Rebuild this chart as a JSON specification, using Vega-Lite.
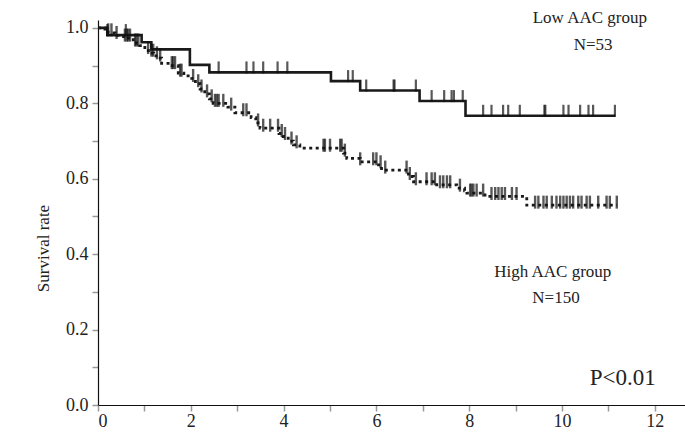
{
  "$schema": "https://vega.github.io/schema/vega-lite/v6.json",
  "autosize": "none",
  "width": 587,
  "height": 385,
  "padding": {"left": 98, "top": 20, "right": 0, "bottom": 34},
  "background": "white",
  "config": {
    "view": {"stroke": null},
    "font": "Liberation Serif",
    "axis": {"grid": false}
  },
  "datasets": {
    "low": [
      {"t": 0, "v": 1.0}, {"t": 0.2, "v": 0.981}, {"t": 0.94, "v": 0.962}, {"t": 1.15, "v": 0.943},
      {"t": 1.98, "v": 0.902}, {"t": 2.4, "v": 0.882}, {"t": 5.02, "v": 0.859}, {"t": 5.65, "v": 0.834},
      {"t": 6.93, "v": 0.806}, {"t": 7.92, "v": 0.767}, {"t": 11.15, "v": 0.767}
    ],
    "high": [
      {"t": 0, "v": 1.0}, {"t": 0.15, "v": 0.993}, {"t": 0.22, "v": 0.987}, {"t": 0.37, "v": 0.98},
      {"t": 0.55, "v": 0.973}, {"t": 0.76, "v": 0.96}, {"t": 0.9, "v": 0.953}, {"t": 1.01, "v": 0.94},
      {"t": 1.12, "v": 0.933}, {"t": 1.2, "v": 0.926}, {"t": 1.3, "v": 0.92}, {"t": 1.37, "v": 0.906},
      {"t": 1.55, "v": 0.9}, {"t": 1.73, "v": 0.88}, {"t": 1.85, "v": 0.873}, {"t": 2.02, "v": 0.866},
      {"t": 2.1, "v": 0.852}, {"t": 2.2, "v": 0.838}, {"t": 2.3, "v": 0.825}, {"t": 2.4, "v": 0.812},
      {"t": 2.48, "v": 0.8}, {"t": 2.8, "v": 0.79}, {"t": 2.95, "v": 0.775}, {"t": 3.3, "v": 0.762},
      {"t": 3.4, "v": 0.748}, {"t": 3.49, "v": 0.734}, {"t": 3.9, "v": 0.72}, {"t": 3.99, "v": 0.712},
      {"t": 4.1, "v": 0.7}, {"t": 4.21, "v": 0.69}, {"t": 4.35, "v": 0.681}, {"t": 5.29, "v": 0.668},
      {"t": 5.36, "v": 0.654}, {"t": 5.65, "v": 0.645}, {"t": 6.01, "v": 0.637}, {"t": 6.11, "v": 0.623},
      {"t": 6.69, "v": 0.606}, {"t": 6.8, "v": 0.592}, {"t": 7.3, "v": 0.584}, {"t": 7.73, "v": 0.575},
      {"t": 7.9, "v": 0.568}, {"t": 7.95, "v": 0.562}, {"t": 8.34, "v": 0.553}, {"t": 9.24, "v": 0.53},
      {"t": 11.18, "v": 0.53}
    ],
    "censorLow": [
      {"t": 0.2, "v": 0.981}, {"t": 0.6, "v": 0.981},
      {"t": 2.6, "v": 0.882}, {"t": 3.2, "v": 0.882}, {"t": 3.35, "v": 0.882}, {"t": 3.56, "v": 0.882},
      {"t": 3.87, "v": 0.882}, {"t": 4.08, "v": 0.882},
      {"t": 5.39, "v": 0.859}, {"t": 5.49, "v": 0.859},
      {"t": 5.78, "v": 0.834}, {"t": 6.37, "v": 0.834}, {"t": 6.39, "v": 0.834}, {"t": 6.85, "v": 0.834},
      {"t": 7.19, "v": 0.806}, {"t": 7.46, "v": 0.806}, {"t": 7.62, "v": 0.806}, {"t": 7.67, "v": 0.806}, {"t": 7.86, "v": 0.806},
      {"t": 8.3, "v": 0.767}, {"t": 8.48, "v": 0.767}, {"t": 8.73, "v": 0.767}, {"t": 8.84, "v": 0.767},
      {"t": 9.09, "v": 0.767}, {"t": 9.62, "v": 0.767}, {"t": 9.64, "v": 0.767}, {"t": 10.03, "v": 0.767},
      {"t": 10.14, "v": 0.767}, {"t": 10.39, "v": 0.767}, {"t": 10.57, "v": 0.767}, {"t": 10.67, "v": 0.767},
      {"t": 11.14, "v": 0.767}
    ],
    "censorHigh": [
      {"t": 0.22, "v": 0.987}, {"t": 0.29, "v": 0.987}, {"t": 0.4, "v": 0.98}, {"t": 0.58, "v": 0.973},
      {"t": 0.62, "v": 0.973}, {"t": 0.65, "v": 0.973}, {"t": 0.69, "v": 0.973}, {"t": 0.8, "v": 0.96},
      {"t": 0.83, "v": 0.96}, {"t": 0.87, "v": 0.96}, {"t": 1.08, "v": 0.94}, {"t": 1.15, "v": 0.933},
      {"t": 1.19, "v": 0.933}, {"t": 1.27, "v": 0.926}, {"t": 1.34, "v": 0.92}, {"t": 1.59, "v": 0.9},
      {"t": 1.62, "v": 0.9}, {"t": 1.66, "v": 0.9}, {"t": 1.77, "v": 0.88}, {"t": 1.8, "v": 0.88},
      {"t": 2.05, "v": 0.866}, {"t": 2.16, "v": 0.852}, {"t": 2.23, "v": 0.838}, {"t": 2.35, "v": 0.825},
      {"t": 2.45, "v": 0.812}, {"t": 2.52, "v": 0.8}, {"t": 2.56, "v": 0.8}, {"t": 2.6, "v": 0.8},
      {"t": 2.7, "v": 0.8}, {"t": 2.87, "v": 0.79}, {"t": 3.13, "v": 0.775}, {"t": 3.2, "v": 0.775},
      {"t": 3.45, "v": 0.748}, {"t": 3.56, "v": 0.734}, {"t": 3.71, "v": 0.734}, {"t": 3.88, "v": 0.734},
      {"t": 3.96, "v": 0.72}, {"t": 4.03, "v": 0.712}, {"t": 4.17, "v": 0.7}, {"t": 4.28, "v": 0.69},
      {"t": 4.86, "v": 0.681}, {"t": 4.89, "v": 0.681}, {"t": 5.0, "v": 0.681}, {"t": 5.22, "v": 0.681},
      {"t": 5.25, "v": 0.681}, {"t": 5.32, "v": 0.668}, {"t": 5.65, "v": 0.645}, {"t": 5.93, "v": 0.645},
      {"t": 6.0, "v": 0.645}, {"t": 6.09, "v": 0.637}, {"t": 6.19, "v": 0.623}, {"t": 6.65, "v": 0.623},
      {"t": 6.72, "v": 0.606}, {"t": 6.85, "v": 0.592}, {"t": 7.08, "v": 0.592}, {"t": 7.19, "v": 0.592},
      {"t": 7.26, "v": 0.592}, {"t": 7.37, "v": 0.584}, {"t": 7.44, "v": 0.584}, {"t": 7.52, "v": 0.584},
      {"t": 7.59, "v": 0.584}, {"t": 7.8, "v": 0.575}, {"t": 8.02, "v": 0.562}, {"t": 8.05, "v": 0.562},
      {"t": 8.09, "v": 0.562}, {"t": 8.16, "v": 0.562}, {"t": 8.3, "v": 0.562}, {"t": 8.48, "v": 0.553},
      {"t": 8.56, "v": 0.553}, {"t": 8.63, "v": 0.553}, {"t": 8.7, "v": 0.553}, {"t": 8.77, "v": 0.553},
      {"t": 8.92, "v": 0.553}, {"t": 9.02, "v": 0.553}, {"t": 9.42, "v": 0.53}, {"t": 9.49, "v": 0.53},
      {"t": 9.6, "v": 0.53}, {"t": 9.67, "v": 0.53}, {"t": 9.78, "v": 0.53}, {"t": 9.88, "v": 0.53},
      {"t": 9.96, "v": 0.53}, {"t": 10.03, "v": 0.53}, {"t": 10.1, "v": 0.53}, {"t": 10.17, "v": 0.53},
      {"t": 10.24, "v": 0.53}, {"t": 10.35, "v": 0.53}, {"t": 10.42, "v": 0.53}, {"t": 10.53, "v": 0.53},
      {"t": 10.6, "v": 0.53}, {"t": 10.78, "v": 0.53}, {"t": 10.96, "v": 0.53}, {"t": 11.03, "v": 0.53},
      {"t": 11.18, "v": 0.53}
    ],
    "labels": [
      {"t": 10.6, "v": 1.027, "text": "Low AAC group", "size": "s"},
      {"t": 10.67, "v": 0.955, "text": "N=53", "size": "s"},
      {"t": 9.8, "v": 0.353, "text": "High AAC group", "size": "s"},
      {"t": 9.87, "v": 0.284, "text": "N=150", "size": "s"},
      {"t": 11.31, "v": 0.072, "text": "P<0.01", "size": "l"}
    ]
  },
  "encoding": {
    "x": {
      "field": "t", "type": "quantitative",
      "scale": {"domain": [0, 12.65], "nice": false, "zero": false},
      "axis": {
        "title": null,
        "values": [0,1,2,3,4,5,6,7,8,9,10,11,12],
        "labelExpr": "datum.value % 2 == 1 ? '' : datum.value",
        "labelFont": "Liberation Serif", "labelFontSize": 18, "labelColor": "#222",
        "labelPadding": 1,
        "tickColor": "#999", "tickSize": 6, "tickWidth": 1.5,
        "domainColor": "#111", "domainWidth": 1.2
      }
    },
    "y": {
      "field": "v", "type": "quantitative",
      "scale": {"domain": [0, 1.021], "nice": false, "zero": false},
      "axis": {
        "title": "Survival rate",
        "titleFont": "Liberation Serif", "titleFontSize": 17, "titleFontWeight": "normal", "titleColor": "#222",
        "titlePadding": 13,
        "titleY": 228,
        "values": [0,0.1,0.2,0.3,0.4,0.5,0.6,0.7,0.8,0.9,1.0],
        "labelExpr": "round(datum.value*10) % 2 == 1 ? '' : format(datum.value, '.1f')",
        "labelFont": "Liberation Serif", "labelFontSize": 18, "labelColor": "#222",
        "labelPadding": 4,
        "tickColor": "#999", "tickSize": 6, "tickWidth": 1.5,
        "domainColor": "#111", "domainWidth": 1.2
      }
    }
  },
  "layer": [
    {
      "data": {"name": "high"},
      "mark": {"type": "line", "interpolate": "step-after", "color": "#1a1a1a", "strokeWidth": 2.8, "strokeDash": [3, 3.5]}
    },
    {
      "data": {"name": "low"},
      "mark": {"type": "line", "interpolate": "step-after", "color": "#1a1a1a", "strokeWidth": 2.6}
    },
    {
      "data": {"name": "censorHigh"},
      "mark": {"type": "tick", "orient": "vertical", "color": "#111", "size": 13, "thickness": 2.4, "yOffset": -3}
    },
    {
      "data": {"name": "censorLow"},
      "mark": {"type": "tick", "orient": "vertical", "color": "#111", "size": 12, "thickness": 2.2, "yOffset": -5}
    },
    {
      "data": {"name": "labels"},
      "transform": [{"filter": "datum.size == 's'"}],
      "mark": {"type": "text", "font": "Liberation Serif", "fontSize": 17, "color": "#222", "align": "center", "baseline": "middle"},
      "encoding": {"text": {"field": "text"}}
    },
    {
      "data": {"name": "labels"},
      "transform": [{"filter": "datum.size == 'l'"}],
      "mark": {"type": "text", "font": "Liberation Serif", "fontSize": 23, "color": "#222", "align": "center", "baseline": "middle"},
      "encoding": {"text": {"field": "text"}}
    }
  ]
}
